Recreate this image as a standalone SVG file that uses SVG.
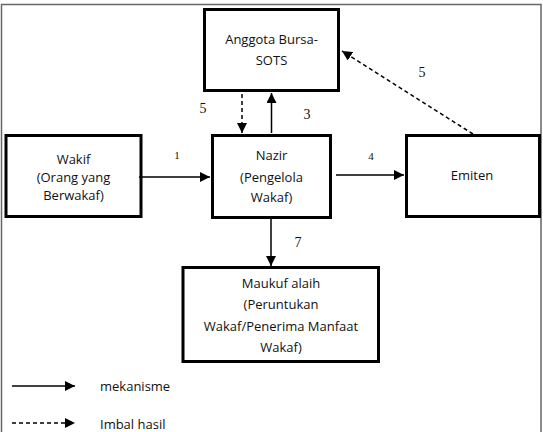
<svg xmlns="http://www.w3.org/2000/svg" width="543" height="432" viewBox="0 0 543 432">
<defs>
<marker id="ah" viewBox="0 0 10 10" refX="10" refY="5" markerWidth="10" markerHeight="10" markerUnits="userSpaceOnUse" orient="auto">
<path d="M0,0 L10,5 L0,10 z" fill="#000"/>
</marker>
</defs>
<style>
.box{fill:#fff;stroke:#000;stroke-width:3}
.t{font-family:"Open Sans","Liberation Sans",sans-serif;font-size:13px;fill:#111;text-anchor:middle}
.lt{font-family:"Open Sans","Liberation Sans",sans-serif;font-size:13px;fill:#111}
.n{font-family:"Liberation Serif",serif;font-size:14px;fill:#111;text-anchor:middle}
.n11{font-size:11px}
.s{stroke:#000;stroke-width:1.5;fill:none}
.d{stroke:#000;stroke-width:1.5;fill:none;stroke-dasharray:4,3}
</style>
<rect x="0" y="0" width="543" height="432" fill="#fff"/>
<rect x="1.5" y="4.5" width="539.5" height="430" fill="none" stroke="#666" stroke-width="1.5"/>
<g id="anggota">
<rect class="box" x="204.5" y="9.5" width="134" height="81"/>
<text class="t" x="271.5" y="44">Anggota Bursa-</text>
<text class="t" x="271.5" y="65">SOTS</text>
</g>
<g id="wakif">
<rect class="box" x="6" y="135.5" width="135" height="81"/>
<text class="t" x="73.5" y="164">Wakif</text>
<text class="t" x="73.5" y="182">(Orang yang</text>
<text class="t" x="73.5" y="200">Berwakaf)</text>
</g>
<g id="nazir">
<rect class="box" x="212.5" y="135.5" width="118" height="82"/>
<text class="t" x="271.5" y="160">Nazir</text>
<text class="t" x="271.5" y="182">(Pengelola</text>
<text class="t" x="271.5" y="202">Wakaf)</text>
</g>
<g id="emiten">
<rect class="box" x="406.5" y="135.5" width="133" height="81"/>
<text class="t" x="472" y="180">Emiten</text>
</g>
<g id="maukuf">
<rect class="box" x="183" y="267.5" width="195.5" height="94"/>
<text class="t" x="281" y="288">Maukuf alaih</text>
<text class="t" x="281" y="309">(Peruntukan</text>
<text class="t" x="281" y="331">Wakaf/Penerima Manfaat</text>
<text class="t" x="281" y="352">Wakaf)</text>
</g>
<g id="connectors">
<line class="d" x1="242" y1="94" x2="242" y2="133" marker-end="url(#ah)"/>
<line class="s" x1="271.5" y1="133" x2="271.5" y2="93" marker-end="url(#ah)"/>
<line class="d" x1="473" y1="134" x2="342" y2="51" marker-end="url(#ah)"/>
<line class="s" x1="139" y1="177" x2="210" y2="177" marker-end="url(#ah)"/>
<line class="s" x1="336" y1="175" x2="404" y2="175" marker-end="url(#ah)"/>
<line class="s" x1="271" y1="219" x2="271" y2="266" marker-end="url(#ah)"/>
</g>
<g id="labels">
<text class="n" x="203" y="113">5</text>
<text class="n" x="307" y="119">3</text>
<text class="n" x="422" y="77">5</text>
<text class="n n11" x="177" y="159">1</text>
<text class="n n11" x="371" y="160">4</text>
<text class="n" x="298" y="247">7</text>
</g>
<g id="legend">
<line class="s" x1="12" y1="386" x2="75" y2="386" marker-end="url(#ah)"/>
<text class="lt" x="100" y="391">mekanisme</text>
<line class="d" x1="12" y1="423" x2="75" y2="423" marker-end="url(#ah)"/>
<text class="lt" x="100" y="429">Imbal hasil</text>
</g>
</svg>
